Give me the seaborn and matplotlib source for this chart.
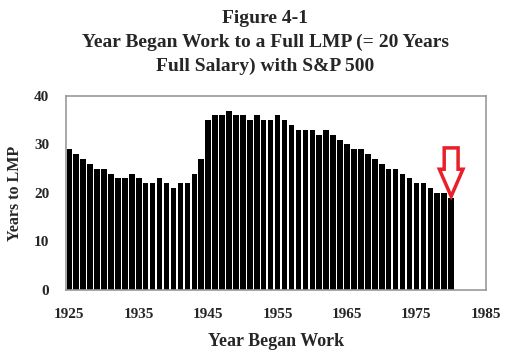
import matplotlib
matplotlib.use("Agg")
import matplotlib.pyplot as plt
from matplotlib.ticker import MultipleLocator
import seaborn as sns
import numpy as np

# ---- data ----
years = np.arange(1925, 1981)
years_to_lmp = [29, 28, 27, 26, 25, 25, 24, 23, 23, 24, 23, 22, 22, 23, 22, 21, 22, 22, 24,
                27, 35, 36, 36, 37, 36, 36, 35, 36, 35, 35, 36, 35, 34, 33, 33, 33, 32, 33,
                32, 31, 30, 29, 29, 28, 27, 26, 25, 25, 24, 23, 22, 22, 21, 20, 20, 19]
x_ticks = [1925, 1935, 1945, 1955, 1965, 1975, 1985]
y_ticks = [0, 10, 20, 30, 40]

title = "Figure 4-1\nYear Began Work to a Full LMP (= 20 Years\nFull Salary) with S&P 500"

sns.set_style("white")
plt.rcParams["font.family"] = ["Liberation Serif", "DejaVu Serif"]
plt.rcParams["font.weight"] = "bold"

fig = plt.figure(figsize=(5.31, 3.57), dpi=100)
ax = fig.add_axes([0.124, 0.188, 0.791, 0.543])

sns.barplot(x=years, y=years_to_lmp, native_scale=True, color="black",
            saturation=1, width=0.8, edgecolor="none", ax=ax)

ax.set_xlim(1924.5, 1985)
ax.set_ylim(0, 40)
ax.set_xticks(x_ticks)
ax.set_yticks(y_ticks)
ax.xaxis.set_minor_locator(MultipleLocator(1))
ax.tick_params(axis="both", which="both", direction="out", color="#888888",
               length=4, width=0.8, labelsize=11)
ax.tick_params(axis="x", which="major", pad=9)
ax.tick_params(axis="y", pad=8)
for lab in ax.get_xticklabels() + ax.get_yticklabels():
    lab.set_fontweight("bold")
for sp in ax.spines.values():
    sp.set_color("#999999")
    sp.set_linewidth(1.2)

ax.set_xlabel("Year Began Work", fontsize=13, fontweight="bold", labelpad=9)
ax.set_ylabel("Years to LMP", fontsize=11.5, fontweight="bold", labelpad=8)

fig.suptitle(title, fontsize=14, fontweight="bold", y=0.972, linespacing=1.5)

# red outline arrow pointing at the last bar
last_year = years[-1]
last_val = years_to_lmp[-1]
ax.arrow(last_year, last_val + 10.3, 0, -10.0, width=2.0, head_width=3.4,
         head_length=5.6, length_includes_head=True, facecolor="white",
         edgecolor="#e8202a", linewidth=2.5, zorder=5)

fig.savefig("out.png", dpi=100)
